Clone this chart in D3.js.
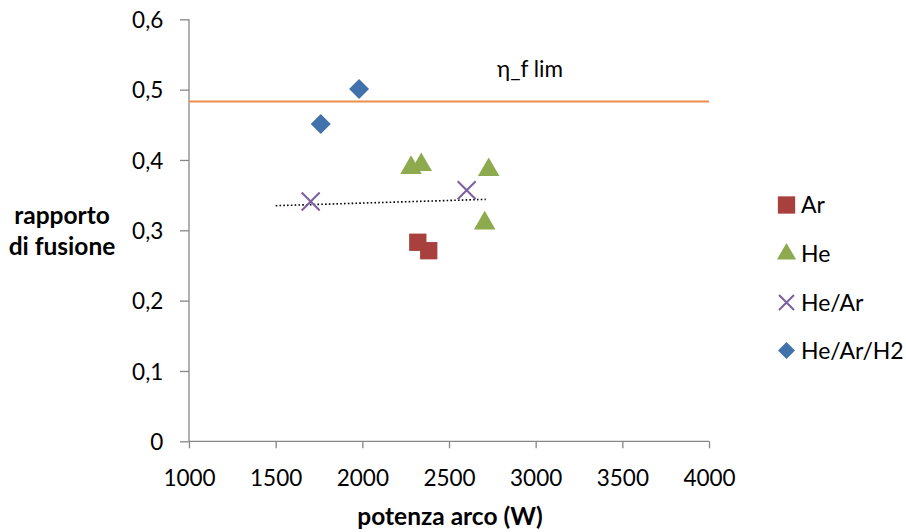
<!DOCTYPE html>
<html><head><meta charset="utf-8">
<script src="https://cdn.jsdelivr.net/npm/d3@7"></script>
<style>body{margin:0;background:#fff}svg{display:block}text{font-family:Lato,"Open Sans",sans-serif}</style>
</head><body>
<svg id="c" width="906" height="532"></svg>
<script>
const xTicks = [1000,1500,2000,2500,3000,3500,4000];
const yTicks = [0,0.1,0.2,0.3,0.4,0.5,0.6];
const arX = [2320,2383], arY = [0.283,0.271];
const heX = [2281,2340,2729,2706], heY = [0.389,0.393,0.386,0.310];
const heArX = [1702,2602], heArY = [0.341,0.357];
const h2X = [1981,1760], h2Y = [0.501,0.451];
const trendX = [1500,2712], trendY = [0.335,0.344];
const limY = 0.483;
const limLabel = "η_f lim";
const seriesNames = ["Ar","He","He/Ar","He/Ar/H2"];
const colors = {"Ar":"#A8403D","He":"#8DAA4F","He/Ar":"#7B5FA0","He/Ar/H2":"#4272AC"};
const FS = 22.5;

const svg = d3.select("#c");
const x = d3.scaleLinear().domain([1000,4000]).range([189,709]);
const y = d3.scaleLinear().domain([0,0.6]).range([441.3,19.3]);

// axes
const gx = svg.append("g").attr("transform",`translate(0,${y(0)})`)
  .call(d3.axisBottom(x).tickValues(xTicks).tickSize(7).tickFormat(d3.format("d")));
const gy = svg.append("g").attr("transform",`translate(${x(1000)},0)`)
  .call(d3.axisLeft(y).tickValues(yTicks).tickSize(9).tickFormat(d=>d===0?"0":d3.format(".1f")(d).replace(".",",")));
[gx,gy].forEach(g=>{
  g.selectAll("path,line").attr("stroke","#868686").attr("stroke-width",1.3);
  g.select(".domain").attr("d", g===gx ? `M${x(1000)},0H${x(4000)}` : `M0,${y(0)}V${y(0.6)}`);
  g.selectAll("text").attr("font-size",FS).attr("fill","#000").attr("font-family","Lato,'Open Sans',sans-serif");
});
gx.selectAll("text").attr("y",44.4).attr("dy",0);
gy.selectAll("text").attr("x",-25.7).attr("dy","0.36em");

// limit line
svg.append("line").attr("x1",x(1000)).attr("x2",x(4000)).attr("y1",y(limY)).attr("y2",y(limY))
  .attr("stroke","#ED8D4A").attr("stroke-width",2);
svg.append("text").attr("x",497).attr("y",76.7).attr("font-size",FS).text(limLabel);

// trend line
svg.append("line").attr("x1",x(trendX[0])).attr("x2",x(trendX[1])).attr("y1",y(trendY[0])).attr("y2",y(trendY[1]))
  .attr("stroke","#000").attr("stroke-width",1.6).attr("stroke-dasharray","1.6,2.2");

const sq = d3.symbol().type(d3.symbolSquare).size(300)();
const tri = d3.symbol().type(d3.symbolTriangle).size(200)();
const dia = "M0,-10L10,0L0,10L-10,0Z";
const cross = "M-9,-9L9,9M-9,9L9,-9";

function pts(xs,ys){return xs.map((v,i)=>[x(v),y(ys[i])]);}
const marks = [
  {name:"Ar", data:pts(arX,arY), path:sq, fill:true},
  {name:"He", data:pts(heX,heY), path:tri, fill:true},
  {name:"He/Ar", data:pts(heArX,heArY), path:cross, fill:false},
  {name:"He/Ar/H2", data:pts(h2X,h2Y), path:dia, fill:true}
];
marks.forEach(m=>{
  svg.append("g").selectAll("path").data(m.data).join("path")
    .attr("transform",d=>`translate(${d[0]},${d[1]})`)
    .attr("d",m.path)
    .attr("fill",m.fill?colors[m.name]:"none")
    .attr("stroke",m.fill?"none":colors[m.name]).attr("stroke-width",2);
});

// legend
const legY = [205,254,302.5,350.5];
const lsq = d3.symbol().type(d3.symbolSquare).size(300)();
const ltri = d3.symbol().type(d3.symbolTriangle).size(160)();
const lcross = "M-7.5,-7.5L7.5,7.5M-7.5,7.5L7.5,-7.5";
const ldia = "M0,-8.5L8.5,0L0,8.5L-8.5,0Z";
const lpaths = [lsq,ltri,lcross,ldia];
seriesNames.forEach((n,i)=>{
  const filled = n!=="He/Ar";
  svg.append("path").attr("transform",`translate(786.5,${legY[i]})`).attr("d",lpaths[i])
    .attr("fill",filled?colors[n]:"none").attr("stroke",filled?"none":colors[n]).attr("stroke-width",2);
  svg.append("text").attr("x",801).attr("y",legY[i]).attr("dy","0.36em").attr("font-size",23).text(n);
});

// axis titles
svg.append("text").attr("x",450).attr("y",524.5).attr("text-anchor","middle").attr("font-size",24.5).attr("font-weight","bold").text("potenza arco (W)");
const yt = svg.append("text").attr("text-anchor","middle").attr("font-size",24.5).attr("font-weight","bold");
yt.append("tspan").attr("x",62).attr("y",223.5).text("rapporto");
yt.append("tspan").attr("x",62).attr("y",255).text("di fusione");
</script>
</body></html>
